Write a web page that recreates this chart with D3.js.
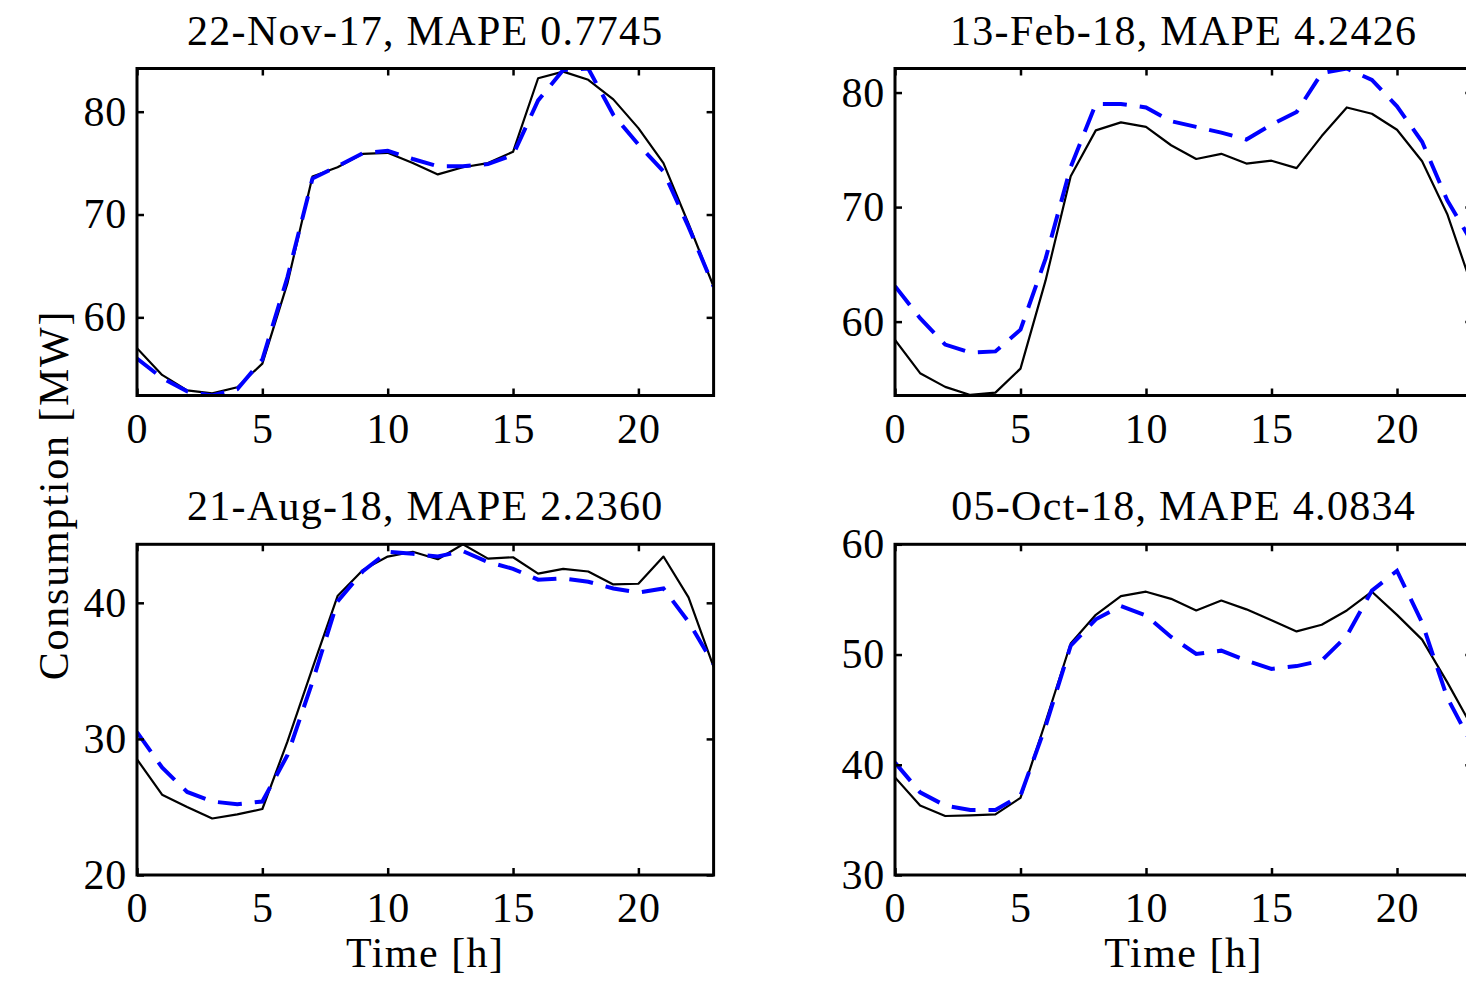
<!DOCTYPE html>
<html>
<head>
<meta charset="utf-8">
<script src="https://cdn.jsdelivr.net/npm/d3@7/dist/d3.min.js"></script>
<style>
  html, body { margin: 0; padding: 0; background: #fff; }
  svg { display: block; }
  text { font-family: "Liberation Serif", "Times New Roman", serif; fill: #000; }
</style>
</head>
<body>
<svg id="chart" width="1466" height="983"></svg>
<script>
// Hour of day for every sample
const hours = [0, 1, 2, 3, 4, 5, 6, 7, 8, 9, 10, 11, 12, 13, 14, 15, 16, 17, 18, 19, 20, 21, 22, 23];
const xTickValues = [0, 5, 10, 15, 20];

// Panel titles
const titles = [
  "22-Nov-17, MAPE 0.7745",
  "13-Feb-18, MAPE 4.2426",
  "21-Aug-18, MAPE 2.2360",
  "05-Oct-18, MAPE 4.0834"
];

// Measured consumption [MW]
const actualNov17 = [57.0, 54.4, 52.9, 52.6, 53.2, 55.5, 63.3, 73.7, 74.6, 75.9, 76.0, 75.0,
                     73.9, 74.6, 75.0, 76.1, 83.25, 83.9, 83.1, 81.2, 78.4, 75.0, 69.1, 63.0];
const actualFeb18 = [58.4, 55.5, 54.3, 53.6, 53.8, 55.9, 63.6, 72.7, 76.7, 77.4, 77.0, 75.4,
                     74.2, 74.65, 73.8, 74.05, 73.4, 76.2, 78.7, 78.15, 76.75, 74.0, 69.4, 63.0];
const actualAug18 = [28.5, 25.9, 25.0, 24.15, 24.45, 24.85, 29.8, 35.2, 40.5, 42.4, 43.4, 43.75,
                     43.2, 44.3, 43.25, 43.35, 42.15, 42.5, 42.3, 41.35, 41.4, 43.4, 40.4, 35.3];
const actualOct18 = [38.85, 36.3, 35.35, 35.4, 35.5, 37.0, 43.9, 51.0, 53.6, 55.3, 55.7, 55.05,
                     54.0, 54.9, 54.1, 53.1, 52.1, 52.7, 54.0, 55.7, 53.6, 51.35, 47.5, 43.4];

// Forecast consumption [MW]
const forecastNov17 = [56.0, 54.1, 52.8, 52.4, 53.0, 55.9, 63.9, 73.5, 74.7, 75.95, 76.2, 75.4,
                       74.7, 74.7, 74.9, 75.8, 81.1, 84.05, 84.2, 79.7, 76.8, 74.2, 68.8, 63.0];
const forecastFeb18 = [63.1, 60.3, 58.0, 57.3, 57.4, 59.3, 65.5, 73.5, 79.0, 79.0, 78.7, 77.5,
                       77.0, 76.5, 75.9, 77.2, 78.3, 81.7, 82.1, 81.1, 78.8, 75.7, 70.6, 66.9];
const forecastAug18 = [30.5, 27.9, 26.1, 25.4, 25.2, 25.4, 28.8, 34.2, 40.1, 42.3, 43.75, 43.6,
                       43.4, 43.8, 43.0, 42.5, 41.7, 41.8, 41.55, 41.05, 40.75, 41.05, 38.6, 35.5];
const forecastOct18 = [40.2, 37.5, 36.3, 35.9, 35.9, 37.2, 43.5, 50.8, 53.2, 54.4, 53.55, 51.6,
                       50.05, 50.35, 49.45, 48.7, 48.95, 49.45, 51.7, 55.8, 57.6, 52.9, 46.1, 41.8];

// Axis limits and tick values of each panel
const yDomains = [[52.4, 84.2], [53.55, 82.1], [20, 44.3], [30, 60]];
const yTickValues = [[60, 70, 80], [60, 70, 80], [20, 30, 40], [30, 40, 50, 60]];

const actualSeries = [actualNov17, actualFeb18, actualAug18, actualOct18];
const forecastSeries = [forecastNov17, forecastFeb18, forecastAug18, forecastOct18];

// Layout: 2 x 2 grid of axes
const colX = [[137, 713.6], [895, 1472.3]];
const rowY = [[68.5, 395.5], [544.3, 875]];
const FONT = 42;
const TICK = 7;

const svg = d3.select("#chart");

titles.forEach((title, i) => {
  const col = i % 2, row = Math.floor(i / 2);
  const [x0, x1] = colX[col];
  const [y0, y1] = rowY[row];

  const x = d3.scaleLinear().domain([0, 23]).range([x0, x1]);
  const y = d3.scaleLinear().domain(yDomains[i]).range([y1, y0]);

  const g = svg.append("g");

  const clipId = "clip" + i;
  svg.append("clipPath").attr("id", clipId)
    .append("rect").attr("x", x0).attr("y", y0).attr("width", x1 - x0).attr("height", y1 - y0);

  const line = d3.line().x((d, k) => x(hours[k])).y(d => y(d));

  const lines = g.append("g").attr("clip-path", `url(#${clipId})`);
  lines.append("path")
    .datum(actualSeries[i])
    .attr("d", line)
    .attr("fill", "none")
    .attr("stroke", "#000")
    .attr("stroke-width", 2.2)
    .attr("stroke-linejoin", "round");
  lines.append("path")
    .datum(forecastSeries[i])
    .attr("d", line)
    .attr("fill", "none")
    .attr("stroke", "#0000ff")
    .attr("stroke-width", 4)
    .attr("stroke-dasharray", "24,13");

  // Inward ticks on all four sides
  const axes = [
    { gen: d3.axisBottom(x).tickValues(xTickValues), tr: `translate(0,${y1})`, labels: true, bottom: true },
    { gen: d3.axisTop(x).tickValues(xTickValues), tr: `translate(0,${y0})`, labels: false },
    { gen: d3.axisLeft(y).tickValues(yTickValues[i]), tr: `translate(${x0},0)`, labels: true },
    { gen: d3.axisRight(y).tickValues(yTickValues[i]), tr: `translate(${x1},0)`, labels: false }
  ];
  axes.forEach(a => {
    const ag = g.append("g").attr("transform", a.tr)
      .call(a.gen.tickSize(-TICK).tickPadding(10).tickFormat(d3.format("d")));
    ag.select(".domain").remove();
    ag.selectAll(".tick line").attr("stroke", "#000").attr("stroke-width", 2.5);
    ag.selectAll(".tick text")
      .style("font-family", '"Liberation Serif", "Times New Roman", serif')
      .style("font-size", FONT + "px")
      .style("letter-spacing", "0.8px")
      .attr("fill", "#000");
    if (a.bottom) ag.selectAll(".tick text").attr("y", 47).attr("dy", null);
    if (!a.labels) ag.selectAll(".tick text").remove();
  });

  // Frame
  g.append("rect")
    .attr("x", x0).attr("y", y0)
    .attr("width", x1 - x0).attr("height", y1 - y0)
    .attr("fill", "none").attr("stroke", "#000").attr("stroke-width", 3);

  // Title
  g.append("text")
    .attr("x", (x0 + x1) / 2)
    .attr("y", y0 - 24)
    .attr("text-anchor", "middle")
    .style("font-size", FONT + "px")
    .style("letter-spacing", "1.3px")
    .text(title);

  // x-axis label under bottom row
  if (row === 1) {
    g.append("text")
      .attr("x", (x0 + x1) / 2)
      .attr("y", 967)
      .attr("text-anchor", "middle")
      .style("font-size", FONT + "px")
      .style("letter-spacing", "1.5px")
      .text("Time [h]");
  }
});

// Shared y-axis label
svg.append("text")
  .attr("transform", "translate(68,495) rotate(-90)")
  .attr("text-anchor", "middle")
  .style("font-size", FONT + "px")
  .style("letter-spacing", "1.8px")
  .text("Consumption [MW]");
</script>
</body>
</html>
